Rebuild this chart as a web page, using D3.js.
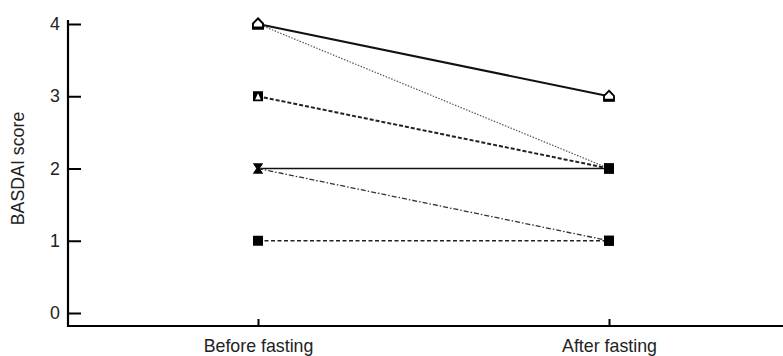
<html>
<head>
    <style>
        body { margin: 0; background: #fff; }
        svg text { font-family: 'Liberation Sans', Arial, sans-serif; }
    </style>
</head>
<body>
    <div id="chart"></div>
    <script src="https://d3js.org/d3.v7.min.js"></script>
    <script>
        // Dados
        const momentos = ["Before fasting", "After fasting"];
        const antes = [4, 4, 3, 2, 2, 1];
        const depois = [3, 2, 2, 2, 1, 1];
        const estilos = ["solid2", "dotted", "dashed2", "solid1", "dashdot", "dashed1"];
        const marcaAntes = ["house", "house", "triangle", "hourglass", "hourglass", "square"];
        const marcaDepois = ["house", "square", "square", "square", "square", "square"];
        const yTicks = [0, 1, 2, 3, 4];

        const W = 783, H = 356;
        const eixoEsq = 68, eixoBase = 326, eixoTopo = 20;
        const fonte = "17.8px";

        const svg = d3.select("#chart").append("svg")
            .attr("width", W)
            .attr("height", H);

        const y = d3.scaleLinear().domain([0, 4]).range([313, 24]);
        const x = d3.scalePoint().domain(momentos).range([258, 609]);

        // Eixo Y
        const gy = svg.append("g")
            .attr("transform", `translate(${eixoEsq},0)`)
            .call(d3.axisLeft(y).tickValues(yTicks).tickFormat(d3.format("d"))
                .tickSizeInner(-13).tickSizeOuter(0).tickPadding(8));
        gy.select(".domain").remove();
        gy.selectAll(".tick line").attr("stroke-width", 2);
        gy.selectAll("text").attr("font-size", fonte).attr("fill", "#222").attr("x", -8);

        // Eixo X
        const gx = svg.append("g")
            .attr("transform", `translate(0,${eixoBase})`)
            .call(d3.axisBottom(x).tickSizeInner(-7).tickSizeOuter(0).tickPadding(12));
        gx.select(".domain").remove();
        gx.selectAll(".tick line").attr("stroke-width", 2);
        gx.selectAll("text").attr("font-size", fonte).attr("fill", "#222").attr("dy", "0.8em");

        svg.append("path")
            .attr("d", `M${eixoEsq},${eixoTopo}V${eixoBase}H${W}`)
            .attr("fill", "none")
            .attr("stroke", "#000")
            .attr("stroke-width", 2.2);

        // Legenda do eixo Y
        svg.append("text")
            .attr("transform", `translate(24,${y(2)}) rotate(-90)`)
            .attr("text-anchor", "middle")
            .attr("font-size", fonte)
            .attr("fill", "#222")
            .text("BASDAI score");

        const estiloLinha = {
            solid2: { w: 2, dash: null, c: "#111" },
            dotted: { w: 1.2, dash: "1.5,1.5", c: "#555" },
            dashed2: { w: 2, dash: "4,2", c: "#222" },
            solid1: { w: 1.3, dash: null, c: "#111" },
            dashdot: { w: 1.3, dash: "5,2,1.5,2", c: "#333" },
            dashed1: { w: 1.3, dash: "4,2.5", c: "#222" }
        };

        const dados = antes.map((a, i) => ({ a, d: depois[i], estilo: estilos[i], ma: marcaAntes[i], md: marcaDepois[i] }));

        // Linhas
        svg.selectAll(".linha")
            .data(dados)
            .join("line")
            .attr("class", "linha")
            .attr("x1", x(momentos[0]))
            .attr("y1", d => y(d.a))
            .attr("x2", x(momentos[1]))
            .attr("y2", d => y(d.d))
            .attr("stroke", d => estiloLinha[d.estilo].c)
            .attr("stroke-width", d => estiloLinha[d.estilo].w)
            .attr("stroke-dasharray", d => estiloLinha[d.estilo].dash);

        // Marcadores
        function desenha(g, tipo) {
            if (tipo === "square") {
                g.append("rect").attr("x", -5).attr("y", -5).attr("width", 10).attr("height", 10).attr("fill", "#000");
            } else if (tipo === "house") {
                g.append("path").attr("d", "M0,-5.5L5,-0.5V4.5H-5V-0.5Z")
                    .attr("fill", "#fff").attr("stroke", "#000").attr("stroke-width", 1.8);
                g.append("rect").attr("x", -5.5).attr("y", 2.5).attr("width", 11).attr("height", 2.5).attr("fill", "#000");
            } else if (tipo === "triangle") {
                g.append("rect").attr("x", -5).attr("y", -5).attr("width", 10).attr("height", 10).attr("fill", "#000");
                g.append("path").attr("d", "M0,-3L2.8,3.3H-2.8Z").attr("fill", "#fff");
            } else if (tipo === "hourglass") {
                g.append("path").attr("d", "M-5,-5H5L1.5,0L5,5H-5L-1.5,0Z").attr("fill", "#000");
            }
        }

        dados.forEach(d => {
            desenha(svg.append("g").attr("transform", `translate(${x(momentos[1])},${y(d.d)})`), d.md);
            desenha(svg.append("g").attr("transform", `translate(${x(momentos[0])},${y(d.a)})`), d.ma);
        });
    </script>
</body>
</html>
